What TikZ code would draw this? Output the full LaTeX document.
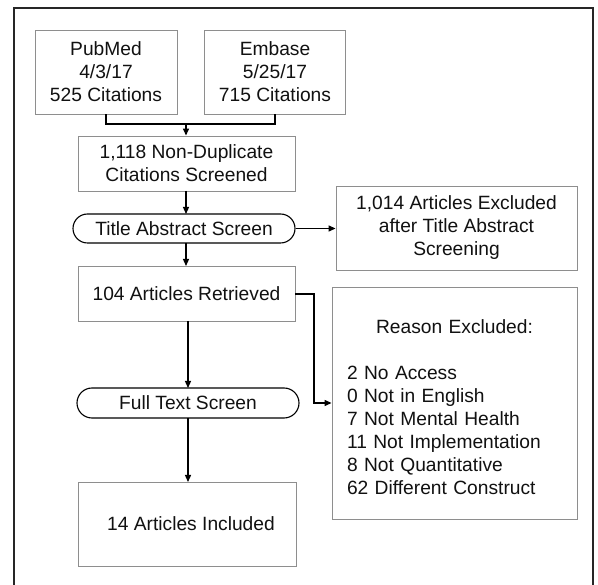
\documentclass[tikz,border=0pt]{standalone}
\usepackage{fontspec}
\setmainfont{Liberation Sans}
\usetikzlibrary{arrows.meta,shapes.misc}
\definecolor{boxline}{HTML}{8E8E8E}
\definecolor{ink}{HTML}{111111}
\tikzset{
  box/.style={draw=boxline, line width=0.9pt, fill=white, inner sep=0pt,
    align=center, text=ink, font=\fontsize{19.2}{23}\selectfont},
  screen/.style={draw=black, line width=1.1pt, rounded rectangle, inner sep=0pt,
    align=center, text=ink, font=\fontsize{19.2}{23}\selectfont},
  flow/.style={draw=black, line width=1.3pt, -{Triangle[length=7pt,width=6pt]}},
  mergeline/.style={draw=black, line width=1.3pt},
}
\begin{document}
\begin{tikzpicture}[x=1pt,y=-1pt]
\useasboundingbox (0,0) rectangle (598,585);
% outer frame, open at the bottom edge of the page
\draw[line width=1.5pt, color=black!85] (14,590) -- (14,8) -- (593,8) -- (593,590);

% sources
\node[box, minimum width=142pt, minimum height=84pt] (pub) at (106,72)
  {PubMed\\4/3/17\\525 Citations};
\node[box, minimum width=141pt, minimum height=84pt] (emb) at (275,72)
  {Embase\\5/25/17\\715 Citations};

% main column
\node[box, minimum width=217pt, minimum height=55pt] (nondup) at (186.5,163.5)
  {1,118 Non-Duplicate\\Citations Screened};
\node[screen, minimum width=222pt, minimum height=29pt] (title) at (184,228.5)
  {Title Abstract Screen};
\node[box, minimum width=217pt, minimum height=55pt] (ret) at (186.5,293.5)
  {104 Articles Retrieved};
\node[screen, minimum width=222pt, minimum height=30pt] (full) at (188,403)
  {Full Text Screen};
\node[box, minimum width=218pt, minimum height=84pt] (inc) at (187,524)
  {\hspace*{8pt}14 Articles Included};

% exclusion boxes
\node[box, minimum width=241pt, minimum height=84pt] (excl) at (456.5,228)
  {1,014 Articles Excluded\\after Title Abstract\\Screening};
\node[box, minimum width=245pt, minimum height=232pt] (reason) at (454.5,403) {};
\node[box, draw=none, fill=none, align=left, text width=215pt, anchor=center]
  (reasontext) at ([yshift=-4.5pt]reason.center)
  {\makebox[215pt][c]{Reason Excluded:}\\[23pt]
   2 No Access\\0 Not in English\\7 Not Mental Health\\
   11 Not Implementation\\8 Not Quantitative\\62 Different Construct};

% merge of the two sources
\coordinate (mrg) at (186,124);
\draw[mergeline] (pub.south) |- (mrg) -| (emb.south);
\draw[flow] (mrg) -- (mrg |- nondup.north);

% main flow
\draw[flow] (186,191) -- (186,214);
\draw[flow] (186,243) -- (186,266);
\draw[flow] (188,321) -- (188,388);
\draw[flow] (188,418) -- (188,482);

% exclusions
\draw[flow] (title.east) -- (excl.west |- title.east);
\coordinate (bend) at (314,294);
\draw[flow] (ret.east |- bend) -- (bend) |- (reason.west |- full.east);
\end{tikzpicture}
\end{document}
